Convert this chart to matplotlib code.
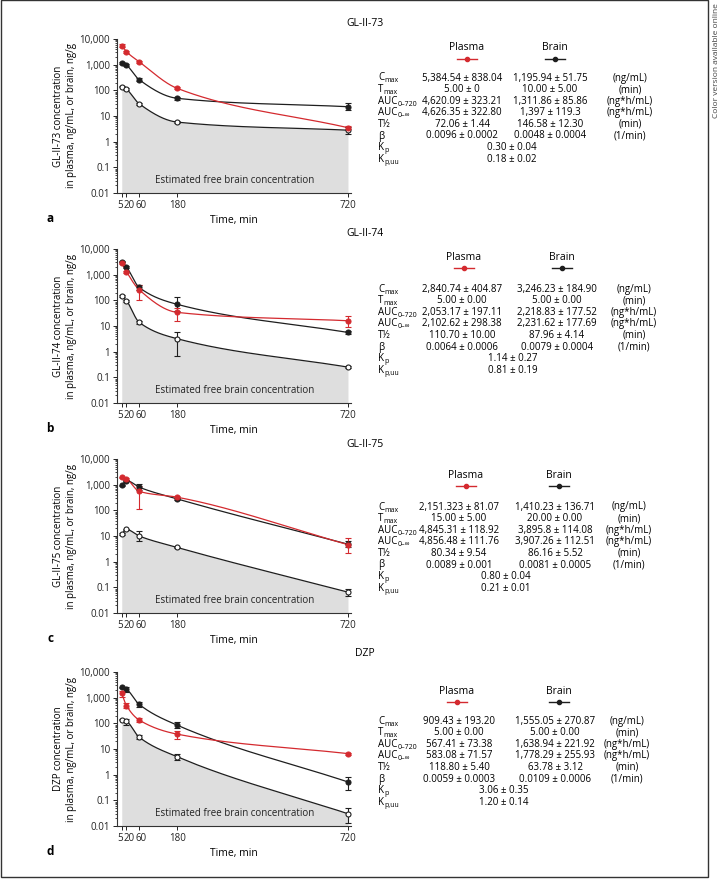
import numpy as np
import matplotlib
matplotlib.use('Agg')
import matplotlib.pyplot as plt
import matplotlib.transforms as mtransforms
from matplotlib.lines import Line2D
from matplotlib.patches import Rectangle

plt.rcParams['font.family'] = ['Open Sans', 'DejaVu Sans']
plt.rcParams['font.size'] = 7

# Data
times = [5, 20, 60, 180, 720]
x_ticks = [5, 20, 60, 180, 720]
y_ticks = [0.01, 0.1, 1, 10, 100, 1000, 10000]
y_tick_labels = ['0.01', '0.1', '1', '10', '100', '1,000', '10,000']

titles = ['GL-II-73', 'GL-II-74', 'GL-II-75', 'DZP']
letters = ['a', 'b', 'c', 'd']

# concentration values, with [lower, upper] error bar ends
a_plasma = [5500, 3200, 1300, 120, 3.5]
a_plasma_err = [[4800, 2900, 1150, 110, 3.1], [6200, 3500, 1450, 130, 3.9]]
a_brain = [1200, 950, 260, 49, 23]
a_brain_err = [[1100, 880, 230, 42, 17], [1300, 1020, 290, 56, 31]]
a_free = [140, 110, 30, 5.8, 2.8]
a_free_err = [[130, 100, 27, 5.2, 2.0], [150, 120, 33, 6.4, 3.8]]

b_plasma = [2800, 1300, 260, 34, 16]
b_plasma_err = [[2500, 1150, 100, 15, 9.5], [3100, 1450, 400, 50, 25]]
b_brain = [3200, 2000, 320, 70, 5.6]
b_brain_err = [[3000, 1800, 260, 40, 5.0], [3400, 2200, 380, 130, 6.2]]
b_free = [150, 97, 14, 3.2, 0.25]
b_free_err = [[140, 90, 12.5, 0.7, 0.23], [160, 104, 15.5, 5.6, 0.27]]

c_plasma = [1940, 1670, 550, 325, 4.6]
c_plasma_err = [[1800, 1500, 110, 290, 2.2], [2080, 1840, 900, 370, 8.0]]
c_brain = [930, 1450, 800, 280, 4.8]
c_brain_err = [[870, 1350, 600, 250, 3.6], [990, 1550, 1100, 310, 6.4]]
c_free = [12, 18, 10, 3.6, 0.065]
c_free_err = [[11, 17, 6.5, 3.4, 0.045], [13, 19, 16, 3.8, 0.09]]

d_plasma = [1470, 490, 135, 38, 6.6]
d_plasma_err = [[1100, 380, 115, 25, 6.0], [1800, 600, 155, 50, 7.2]]
d_brain = [2500, 2100, 550, 85, 0.52]
d_brain_err = [[2300, 1600, 420, 65, 0.25], [2700, 2600, 680, 110, 0.8]]
d_free = [140, 120, 29, 5.0, 0.03]
d_free_err = [[130, 85, 24, 3.8, 0.013], [150, 150, 34, 6.2, 0.05]]

# PK tables
row_labels = [('C', 'max'), ('T', 'max'), ('AUC', '0–720'), ('AUC', '0–∞'),
              ('T½', ''), ('β', ''), ('K', 'p'), ('K', 'p,uu')]
units = ['(ng/mL)', '(min)', '(ng*h/mL)', '(ng*h/mL)', '(min)', '(1/min)']

a_plasma_tab = ['5,384.54 ± 838.04', '5.00 ± 0', '4,620.09 ± 323.21', '4,626.35 ± 322.80',
                '72.06 ± 1.44', '0.0096 ± 0.0002']
a_brain_tab = ['1,195.94 ± 51.75', '10.00 ± 5.00', '1,311.86 ± 85.86', '1,397 ± 119.3',
               '146.58 ± 12.30', '0.0048 ± 0.0004']
a_kp = ['0.30 ± 0.04', '0.18 ± 0.02']
b_plasma_tab = ['2,840.74 ± 404.87', '5.00 ± 0.00', '2,053.17 ± 197.11', '2,102.62 ± 298.38',
                '110.70 ± 10.00', '0.0064 ± 0.0006']
b_brain_tab = ['3,246.23 ± 184.90', '5.00 ± 0.00', '2,218.83 ± 177.52', '2,231.62 ± 177.69',
               '87.96 ± 4.14', '0.0079 ± 0.0004']
b_kp = ['1.14 ± 0.27', '0.81 ± 0.19']
c_plasma_tab = ['2,151.323 ± 81.07', '15.00 ± 5.00', '4,845.31 ± 118.92', '4,856.48 ± 111.76',
                '80.34 ± 9.54', '0.0089 ± 0.001']
c_brain_tab = ['1,410.23 ± 136.71', '20.00 ± 0.00', '3,895.8 ± 114.08', '3,907.26 ± 112.51',
               '86.16 ± 5.52', '0.0081 ± 0.0005']
c_kp = ['0.80 ± 0.04', '0.21 ± 0.01']
d_plasma_tab = ['909.43 ± 193.20', '5.00 ± 0.00', '567.41 ± 73.38', '583.08 ± 71.57',
                '118.80 ± 5.40', '0.0059 ± 0.0003']
d_brain_tab = ['1,555.05 ± 270.87', '5.00 ± 0.00', '1,638.94 ± 221.92', '1,778.29 ± 255.93',
               '63.78 ± 3.12', '0.0109 ± 0.0006']
d_kp = ['3.06 ± 0.35', '1.20 ± 0.14']

RED = '#d42a2f'
BLACK = '#1e1e1e'
W, H = 721, 880
FS = 7.5
FS_TAB = 7.0


def pchip(x, y, xs):
    # monotone cubic through the points (used for the smooth connecting line)
    x = np.asarray(x, float)
    y = np.asarray(y, float)
    h = np.diff(x)
    d = np.diff(y) / h
    m = np.zeros_like(y)
    m[0], m[-1] = d[0], d[-1]
    for k in range(1, len(x) - 1):
        if d[k - 1] * d[k] > 0:
            w1 = 2 * h[k] + h[k - 1]
            w2 = h[k] + 2 * h[k - 1]
            m[k] = (w1 + w2) / (w1 / d[k - 1] + w2 / d[k])
    i = np.clip(np.searchsorted(x, xs) - 1, 0, len(x) - 2)
    t = (xs - x[i]) / h[i]
    return ((2 * t**3 - 3 * t**2 + 1) * y[i] + (t**3 - 2 * t**2 + t) * h[i] * m[i]
            + (-2 * t**3 + 3 * t**2) * y[i + 1] + (t**3 - t**2) * h[i] * m[i + 1])


def fx(px):
    return px / W


def fy(py):
    return 1 - py / H


panels = [
    (a_plasma, a_plasma_err, a_brain, a_brain_err, a_free, a_free_err,
     a_plasma_tab, a_brain_tab, a_kp),
    (b_plasma, b_plasma_err, b_brain, b_brain_err, b_free, b_free_err,
     b_plasma_tab, b_brain_tab, b_kp),
    (c_plasma, c_plasma_err, c_brain, c_brain_err, c_free, c_free_err,
     c_plasma_tab, c_brain_tab, c_kp),
    (d_plasma, d_plasma_err, d_brain, d_brain_err, d_free, d_free_err,
     d_plasma_tab, d_brain_tab, d_kp),
]

# layout in pixels
ax_bottom_px = [193, 403, 613, 826]
title_px = [24, 234, 444, 654]
header_px = [48, 257, 475, 691]
row0_px = [77, 288, 506, 720]
col_px = [(467, 555, 462, 550, 630, 512),
          (464, 562, 462, 557, 634, 513),
          (466, 559, 459, 555, 629, 506),
          (457, 559, 459, 555, 627, 504)]
# small horizontal nudges of the crowded x tick labels (pixels)
xlabel_shift = [-1.5, 3, 2, 0, 0]

fig = plt.figure(figsize=(W / 100, H / 100), dpi=100)
renderer = fig.canvas.get_renderer()

xs = np.linspace(5, 720, 600)
for p, (pl, pl_e, br, br_e, fr, fr_e, pl_tab, br_tab, kp) in enumerate(panels):
    ax = fig.add_axes([fx(117), fy(ax_bottom_px[p]), fx(350.5) - fx(117), 154 / H])
    ax.set_yscale('log')
    ax.set_ylim(0.01, 10000)
    ax.set_xlim(-10, 728)

    free_line = 10 ** pchip(times, np.log10(fr), xs)
    ax.fill_between(xs, 0.01, free_line, color='#dedede', lw=0, zorder=0)
    ax.text(0.505, 0.08, 'Estimated free brain concentration', transform=ax.transAxes,
            ha='center', va='center', fontsize=7, color='#222222', zorder=1)

    for vals, err, col, face in [(fr, fr_e, BLACK, 'white'), (br, br_e, BLACK, BLACK),
                                 (pl, pl_e, RED, RED)]:
        vals = np.array(vals, float)
        lo, hi = np.array(err[0], float), np.array(err[1], float)
        ax.plot(xs, 10 ** pchip(times, np.log10(vals), xs), color=col, lw=0.9, zorder=2)
        ax.errorbar(times, vals, yerr=[vals - lo, hi - vals], fmt='none', ecolor=col,
                    elinewidth=0.8, capsize=2, capthick=0.8, zorder=3)
        ax.plot(times, vals, 'o', ms=3.6, mfc=face, mec=col, mew=0.8, zorder=4)

    ax.set_xticks(x_ticks)
    ax.set_xticklabels([str(t) for t in x_ticks])
    ax.set_yticks(y_ticks)
    ax.set_yticklabels(y_tick_labels)
    ax.tick_params(axis='both', direction='out', length=3, width=0.7, pad=2,
                   labelsize=7, colors='#222222')
    ax.tick_params(axis='y', which='minor', length=1.8, width=0.5)
    for lbl, dx in zip(ax.get_xticklabels(), xlabel_shift):
        lbl.set_transform(lbl.get_transform() +
                          mtransforms.ScaledTranslation(dx / 100, 0, fig.dpi_scale_trans))
    for s in ['top', 'right']:
        ax.spines[s].set_visible(False)
    for s in ['left', 'bottom']:
        ax.spines[s].set_linewidth(0.8)
        ax.spines[s].set_color('#333333')
    ax.set_xlabel('Time, min', fontsize=FS, labelpad=3)

    fig.text(fx(65), fy(ax_bottom_px[p] - 77),
             titles[p] + ' concentration\nin plasma, ng/mL, or brain, ng/g',
             rotation=90, ha='center', va='center', fontsize=7, linespacing=1.2)
    fig.text(fx(50), fy(ax_bottom_px[p] + 25), letters[p], fontsize=8.5,
             fontweight='bold', ha='center', va='center')
    fig.text(fx(365), fy(title_px[p]), titles[p], fontsize=FS, ha='center', va='center')

    # PK table
    hx_pl, hx_br, cx_pl, cx_br, cx_unit, cx_kp = col_px[p]
    hy = header_px[p]
    fig.text(fx(hx_pl), fy(hy), 'Plasma', ha='center', va='center', fontsize=FS)
    fig.text(fx(hx_br), fy(hy), 'Brain', ha='center', va='center', fontsize=FS)
    for hxx, col in [(hx_pl, RED), (hx_br, BLACK)]:
        fig.add_artist(Line2D([fx(hxx - 10), fx(hxx + 10)], [fy(hy + 11)] * 2,
                              color=col, lw=1, transform=fig.transFigure))
        fig.add_artist(Line2D([fx(hxx)], [fy(hy + 11)], marker='o', ms=3, color=col,
                              transform=fig.transFigure))
    for r, (main, sub) in enumerate(row_labels):
        base = row0_px[p] + r * 11.6 + 3.5
        yy = fy(base)
        t = fig.text(fx(378), yy, main, ha='left', va='baseline', fontsize=FS_TAB)
        if sub:
            bb = t.get_window_extent(renderer)
            fig.text(fx(bb.x1 + 0.3), fy(base + 2), sub, ha='left', va='baseline',
                     fontsize=5.0)
        if r < 6:
            fig.text(fx(cx_pl), yy, pl_tab[r], ha='center', va='baseline', fontsize=FS_TAB)
            fig.text(fx(cx_br), yy, br_tab[r], ha='center', va='baseline', fontsize=FS_TAB)
            fig.text(fx(cx_unit), yy, units[r], ha='center', va='baseline', fontsize=FS_TAB)
        else:
            fig.text(fx(cx_kp), yy, kp[r - 6], ha='center', va='baseline', fontsize=FS_TAB)

fig.add_artist(Rectangle((fx(0.5), fy(877)), fx(707.5), fy(0.5) - fy(877), fill=False,
                         ec='#333333', lw=1, transform=fig.transFigure))
fig.text(fx(716), fy(3), 'Color version available online', rotation=90, ha='center',
         va='top', fontsize=6, color='#444444')

fig.savefig('out.png', dpi=100)
